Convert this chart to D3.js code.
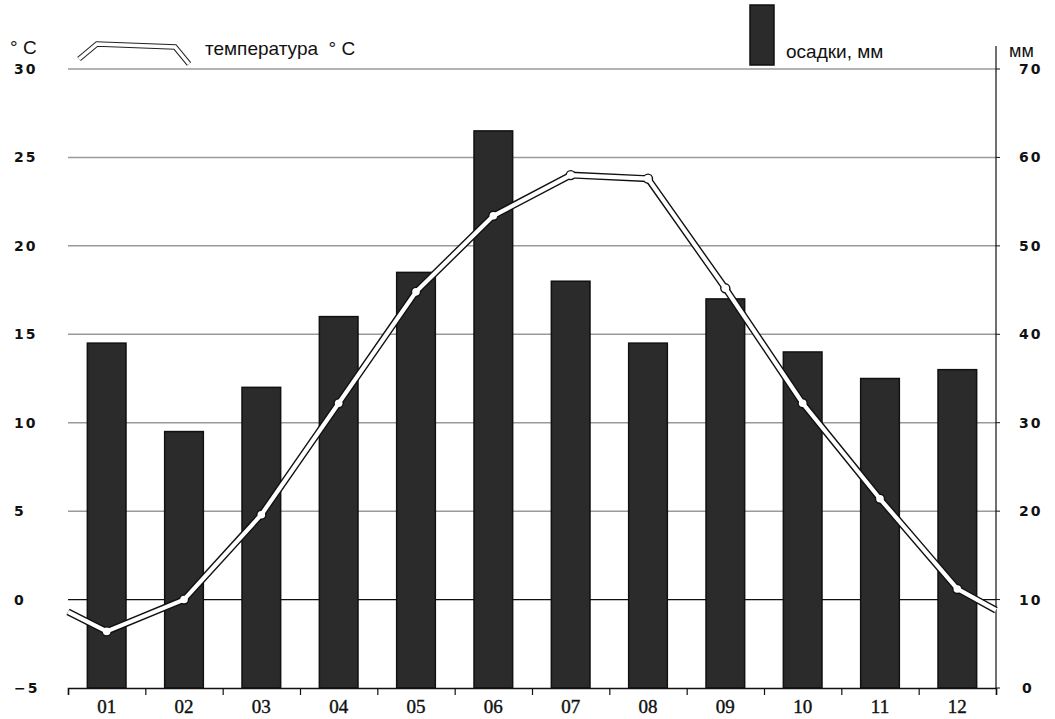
<!DOCTYPE html>
<meta charset="utf-8">
<head>
  <style>
    body {margin: 0; background-color: #ffffff;}
    text {fill: #111;}
  </style>
  <title></title>
</head>
<body>
<script src="https://d3js.org/d3.v7.min.js"></script>
<script>

const months = ["01","02","03","04","05","06","07","08","09","10","11","12"];
const precip = [39, 29, 34, 42, 47, 63, 46, 39, 44, 38, 35, 36];   // mm
const temp = [-1.8, 0.0, 4.8, 11.1, 17.4, 21.7, 24.0, 23.8, 17.6, 11.1, 5.7, 0.6]; // °C
// where the temperature line meets the plot edges
const tempEdges = [-0.7, -0.6];
const tempTicks = [-5, 0, 5, 10, 15, 20, 25, 30];
const precipTicks = [0, 10, 20, 30, 40, 50, 60, 70];

const W = 1055, H = 719;
const plotL = 68, plotR = 996, plotT = 69, plotB = 688;

const svg = d3.select("body").append("svg")
  .attr("width", W)
  .attr("height", H);

const x = d3.scaleBand().domain(months).range([plotL, plotR])
  .paddingInner(0.5).paddingOuter(0.25);
const xEdge = d3.scaleLinear().domain([0, 12]).range([plotL, plotR]);
const yT = d3.scaleLinear().domain([-5, 30]).range([plotB, plotT]);
const yP = d3.scaleLinear().domain([0, 70]).range([plotB, plotT]);

// grid
svg.append("g").selectAll("line")
  .data(tempTicks.filter(d => d > -5))
  .join("line")
    .attr("x1", plotL).attr("x2", plotR)
    .attr("y1", d => yT(d)).attr("y2", d => yT(d))
    .style("stroke", d => d === 0 ? "#111" : "#9a9a9a")
    .style("stroke-width", d => d === 0 ? 1.2 : 1.5);

// left labels
svg.append("g").selectAll("text")
  .data(tempTicks)
  .join("text")
    .attr("x", 14)
    .attr("y", d => yT(d) + 5)
    .style("font-family", "DejaVu Sans")
    .style("font-size", "14px")
    .style("font-weight", "bold")
    .style("letter-spacing", "2px")
    .text(d => d < 0 ? "\u2212" + Math.abs(d) : d);

// right axis
svg.append("line")
  .attr("x1", plotR).attr("x2", plotR)
  .attr("y1", 46).attr("y2", plotB)
  .style("stroke", "#111").style("stroke-width", 1.2);

svg.append("g").selectAll("line")
  .data(precipTicks)
  .join("line")
    .attr("x1", plotR).attr("x2", plotR + 4)
    .attr("y1", d => yP(d)).attr("y2", d => yP(d))
    .style("stroke", "#111");

svg.append("g").selectAll("text")
  .data(precipTicks)
  .join("text")
    .attr("x", d => d === 0 ? 1022 : 1019)
    .attr("y", d => yP(d) + 5)
    .style("font-family", "DejaVu Sans")
    .style("font-size", "14px")
    .style("font-weight", "bold")
    .style("letter-spacing", "2px")
    .text(d => d);

// bars
svg.append("g").selectAll("rect")
  .data(precip)
  .join("rect")
    .attr("x", (d, i) => x(months[i]))
    .attr("y", d => yP(d))
    .attr("width", x.bandwidth())
    .attr("height", d => yP(0) - yP(d))
    .attr("fill", "#2b2b2b")
    .style("stroke", "#111")
    .style("stroke-width", 1.5);

// bottom axis
const xAxis = svg.append("g")
  .attr("transform", "translate(0," + plotB + ")")
  .call(d3.axisBottom(xEdge).ticks(12).tickSize(7).tickFormat(""));
xAxis.select(".domain").style("stroke", "#111").style("stroke-width", 1.5);
xAxis.selectAll(".tick line").style("stroke", "#111").style("stroke-width", 1.2);

svg.append("g").selectAll("text")
  .data(months)
  .join("text")
    .attr("x", d => x(d) + x.bandwidth() / 2)
    .attr("y", 713)
    .attr("text-anchor", "middle")
    .style("font-family", "Liberation Serif")
    .style("font-size", "19px")
    .style("stroke", "#111").style("stroke-width", 0.4)
    .text(d => d);

// temperature line
const pts = [[plotL, tempEdges[0]]]
  .concat(temp.map((d, i) => [x(months[i]) + x.bandwidth() / 2, d]))
  .concat([[plotR, tempEdges[1]]]);
const line = d3.line().x(d => d[0]).y(d => yT(d[1]));

svg.append("path").datum(pts)
  .attr("d", line)
  .attr("fill", "none")
  .style("stroke", "#111").style("stroke-width", 7)
  .style("stroke-linejoin", "round");

svg.append("g").selectAll("circle")
  .data(pts.slice(1, -1))
  .join("circle")
    .attr("cx", d => d[0]).attr("cy", d => yT(d[1]))
    .attr("r", 5.2).attr("fill", "#111");

svg.append("path").datum(pts)
  .attr("d", line)
  .attr("fill", "none")
  .style("stroke", "#fff").style("stroke-width", 4.2)
  .style("stroke-linejoin", "round");

svg.append("g").selectAll("circle")
  .data(pts.slice(1, -1))
  .join("circle")
    .attr("cx", d => d[0]).attr("cy", d => yT(d[1]))
    .attr("r", 3.8).attr("fill", "#fff");

// units
svg.append("text")
  .attr("x", 10).attr("y", 54)
  .style("font-family", "Liberation Sans")
  .style("font-size", "19px")
  .text("°\u00a0C");

svg.append("text")
  .attr("x", 1009).attr("y", 57)
  .style("font-family", "Liberation Sans")
  .style("font-size", "18px")
  .text("мм");

// legend: temperature
const legendPts = [[79, 59], [97, 44], [175, 47], [189, 64]];
svg.append("path").datum(legendPts)
  .attr("d", d3.line())
  .attr("fill", "none")
  .style("stroke", "#222").style("stroke-width", 5.5);
svg.append("path").datum(legendPts)
  .attr("d", d3.line())
  .attr("fill", "none")
  .style("stroke", "#fff").style("stroke-width", 3.5);

svg.append("text")
  .attr("x", 205).attr("y", 55)
  .style("font-family", "Liberation Sans")
  .style("font-size", "19px")
  .text("температура\u00a0\u00a0°\u00a0C");

// legend: precipitation
svg.append("rect")
  .attr("x", 750).attr("y", 5)
  .attr("width", 24).attr("height", 60)
  .attr("fill", "#2b2b2b")
  .style("stroke", "#111").style("stroke-width", 1.5);

svg.append("text")
  .attr("x", 786).attr("y", 58)
  .style("font-family", "Liberation Sans")
  .style("font-size", "19px")
  .text("осадки, мм");

</script>
</body>
</html>
